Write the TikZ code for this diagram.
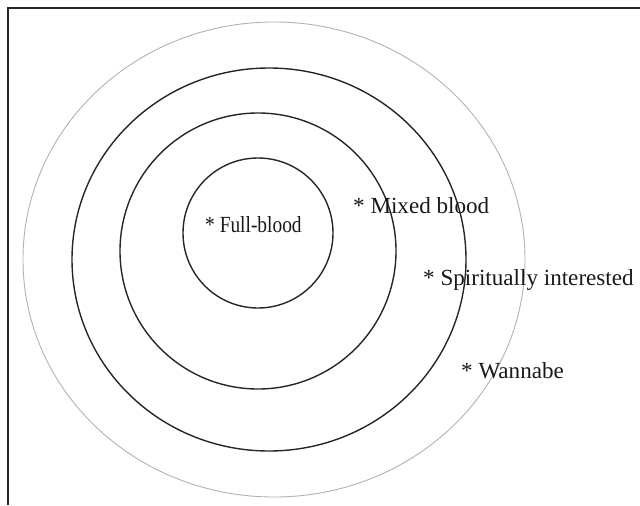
\documentclass[tikz,border=0pt]{standalone}
\usepackage{fontspec}
\setmainfont{Liberation Serif}
\begin{document}
\begin{tikzpicture}[x=1pt,y=-1pt,
  ring/.style={draw=black!85,line width=1.4pt},
  outerring/.style={draw=black!30,line width=0.9pt},
  frameline/.style={draw=black!85,line width=1.6pt},
  lbl/.style={anchor=base west,inner sep=0pt,text=black!90,font=\fontsize{23.1}{27}\selectfont}]
\useasboundingbox (0,0) rectangle (640,506);
% frame
\draw[frameline] (8,505) -- (8,8) -- (640,8);
% rings
\draw[outerring] (274,259.5) ellipse [x radius=251, y radius=237.5];
\draw[ring] (269,259.5) ellipse [x radius=197, y radius=191.5];
\draw[ring] (258,251) ellipse [x radius=138, y radius=138];
\draw[ring] (258,233) ellipse [x radius=75, y radius=75];
% labels
\node[lbl] (full) at (205,232) {\scalebox{0.84}[1]{* Full-blood}};
\node[lbl] (mixed) at (353,213) {* Mixed blood};
\node[lbl] (spirit) at (423,285) {* Spiritually interested};
\node[lbl] (wanna) at (461,378) {* Wannabe};
\end{tikzpicture}
\end{document}
